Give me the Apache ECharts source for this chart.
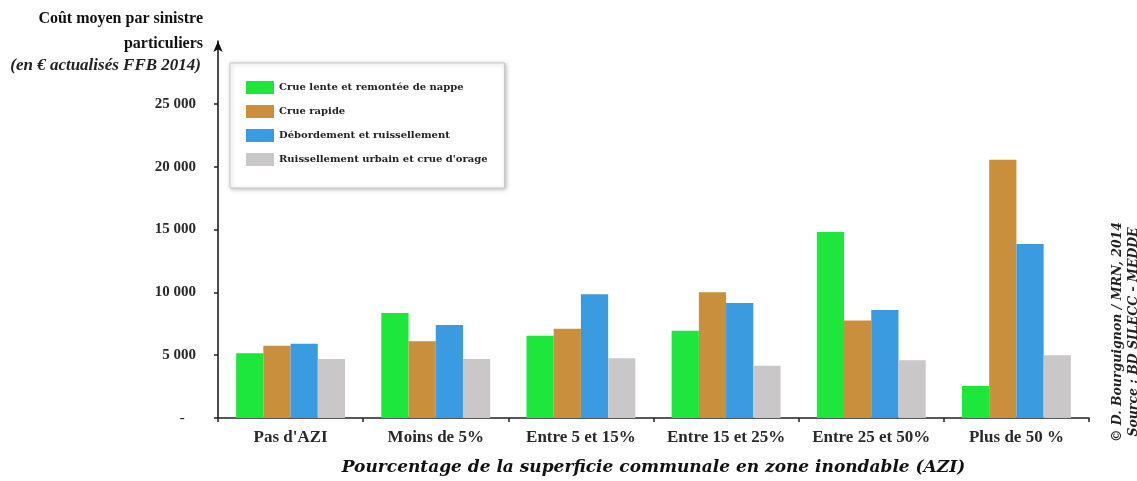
<!DOCTYPE html>
<html><head><meta charset="utf-8">
<script src="https://cdn.jsdelivr.net/npm/echarts@6/dist/echarts.min.js"></script>
<style>html,body{margin:0;padding:0;background:#fff}#c{width:1137px;height:481px}</style>
</head><body><div id="c"></div>
<script>
const categories = ["Pas d'AZI", "Moins de 5%", "Entre 5 et 15%", "Entre 15 et 25%", "Entre 25 et 50%", "Plus de 50 %"];
const seriesNames = ["Crue lente et remontée de nappe", "Crue rapide", "Débordement et ruissellement", "Ruissellement urbain et crue d'orage"];
const crueLente = [5150, 8350, 6550, 6950, 14800, 2550];
const crueRapide = [5750, 6100, 7100, 10000, 7750, 20550];
const debordement = [5900, 7400, 9850, 9150, 8600, 13850];
const ruissellementUrbain = [4700, 4700, 4750, 4150, 4600, 5000];
const yTicks = [0, 5000, 10000, 15000, 20000, 25000];
const colors = ['#1de63c', '#c98f3c', '#3b9be0', '#c9c7c7'];

const serif = '"Liberation Serif", "DejaVu Serif", serif';
const wide = '"DejaVu Serif", "Liberation Serif", serif';
const chart = echarts.init(document.getElementById('c'), null, {renderer: 'canvas'});
const dataSets = [crueLente, crueRapide, debordement, ruissellementUrbain];
const fmt = v => v === 0 ? '-   ' : String(v).replace(/\B(?=(\d{3})+(?!\d))/g, ' ');

chart.setOption({
  backgroundColor: '#fff',
  animation: false,
  color: colors,
  grid: {left: 218, right: 48, top: 41, bottom: 58, containLabel: false},
  legend: {
    orient: 'vertical', left: 230, top: 63,
    padding: [18, 17, 22, 16],
    itemWidth: 28, itemHeight: 13, itemGap: 11,
    icon: 'rect',
    backgroundColor: '#fff', borderColor: '#c8c8c8', borderWidth: 1,
    shadowColor: 'rgba(0,0,0,0.25)', shadowBlur: 4, shadowOffsetX: 1, shadowOffsetY: 1,
    textStyle: {fontFamily: wide, fontSize: 10, fontWeight: 'bold', color: '#222'},
    data: seriesNames
  },
  xAxis: {
    type: 'category', data: categories,
    axisLine: {lineStyle: {color: '#222', width: 1.5}},
    axisTick: {show: true, interval: 0, alignWithLabel: false, length: 4, lineStyle: {color: '#222', width: 1.5}},
    axisLabel: {interval: 0, fontFamily: serif, fontSize: 17, fontWeight: 'bold', color: '#2a2a2a', margin: 11},
    name: 'Pourcentage de la superficie communale en zone inondable (AZI)',
    nameLocation: 'middle', nameGap: 41,
    nameTextStyle: {fontFamily: wide, fontSize: 17, fontWeight: 'bold', fontStyle: 'italic', color: '#111'}
  },
  yAxis: {
    type: 'value', min: 0, max: 30000, interval: 5000,
    splitLine: {show: false},
    axisLine: {show: true, lineStyle: {color: '#111', width: 1.5}, symbol: ['none', 'arrow'], symbolSize: [7, 11]},
    axisTick: {show: true, length: 4, customValues: yTicks, lineStyle: {color: '#222', width: 1.5}},
    axisLabel: {customValues: yTicks, formatter: fmt, fontFamily: serif, fontSize: 15, fontWeight: 'bold', color: '#2a2a2a', margin: 22}
  },
  series: dataSets.map((d, i) => ({
    name: seriesNames[i], type: 'bar', data: d,
    barGap: '0%', barCategoryGap: '25%',
    itemStyle: {color: colors[i]}
  })),
  graphic: [
    {type: 'text', right: 1137 - 203, top: 11, style: {text: 'Coût moyen par sinistre', font: 'bold 16px ' + serif, fill: '#111', textAlign: 'right'}},
    {type: 'text', right: 1137 - 203, top: 36, style: {text: 'particuliers', font: 'bold 16px ' + serif, fill: '#111', textAlign: 'right'}},
    {type: 'text', right: 1137 - 201, top: 57, style: {text: '(en € actualisés FFB 2014)', font: 'italic bold 17px ' + serif, fill: '#222', textAlign: 'right'}},
    {type: 'text', x: 1118, y: 332, rotation: Math.PI / 2, style: {text: '© D. Bourguignon / MRN, 2014', font: 'italic bold 12.5px ' + wide, fill: '#222', textAlign: 'center', textVerticalAlign: 'middle'}},
    {type: 'text', x: 1134, y: 332, rotation: Math.PI / 2, style: {text: 'Source : BD SILECC - MEDDE', font: 'italic bold 12.5px ' + wide, fill: '#222', textAlign: 'center', textVerticalAlign: 'middle'}}
  ]
});
</script></body></html>
